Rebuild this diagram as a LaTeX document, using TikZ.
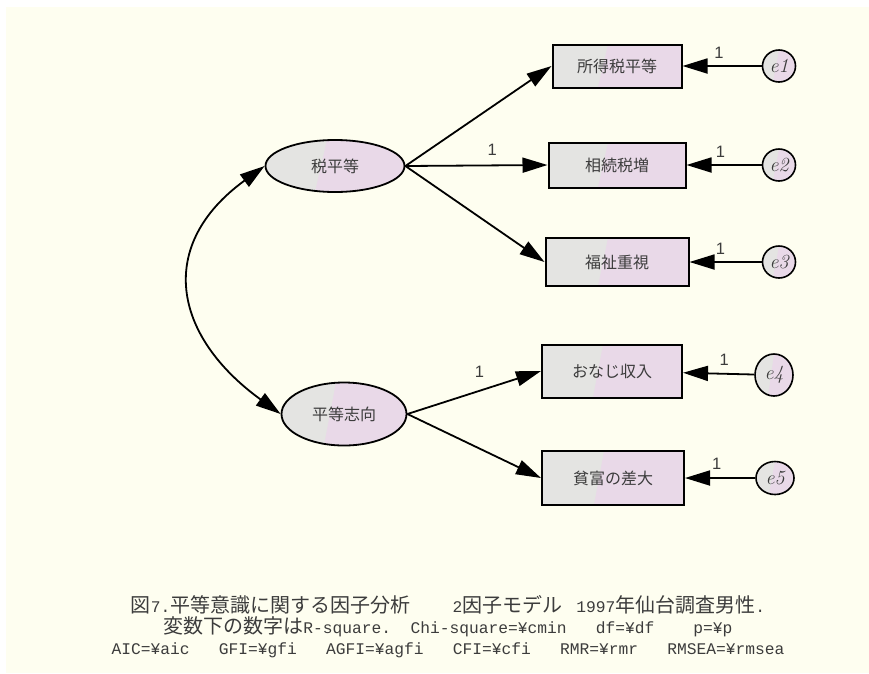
\documentclass[tikz,border=0pt]{standalone}
\usepackage{fontspec}
\newfontfamily\jpfont{Noto Sans CJK JP}
\newfontfamily\latinmono{Liberation Mono}
\newfontfamily\labelsans{Liberation Sans}
\usetikzlibrary{arrows.meta,shapes}
\definecolor{bgcream}{HTML}{FEFEF0}
\definecolor{nodegrey}{HTML}{E4E4E2}
\definecolor{nodepink}{HTML}{E9D9E8}
\definecolor{txtgrey}{HTML}{3C3C3C}
\tikzset{twotone/.style 2 args={fill=nodegrey,
    path picture={\fill[nodepink] ([xshift=#1]path picture bounding box.north)
      -- (path picture bounding box.north east) -- (path picture bounding box.south east)
      -- ([xshift=#2]path picture bounding box.south) -- cycle;}}}
\newcommand{\capmono}{\latinmono\fontsize{16.25}{21}\selectfont}

\begin{document}
\begin{tikzpicture}[x=1pt,y=1pt,->,>={Triangle[length=25pt,width=15pt]},
                    line width=1.8pt,node distance=162pt]
  \tikzstyle{latent}=[ellipse,draw,line width=1.8pt,inner sep=0pt,twotone={-8pt}{-20pt},
                      text=txtgrey,font=\jpfont\fontsize{16}{16}\selectfont]
  \tikzstyle{observed}=[rectangle,draw,line width=2pt,inner sep=0pt,twotone={-9pt}{-19pt},
                        text=txtgrey,font=\jpfont\fontsize{16}{16}\selectfont]
  \tikzstyle{err}=[ellipse,draw,line width=1.6pt,inner sep=0pt,twotone={0pt}{-6pt},
                   minimum width=33pt,minimum height=32pt,text=txtgrey,
                   font=\itshape\fontsize{20}{20}\selectfont]
  \tikzstyle{one}=[text=txtgrey,font=\labelsans\fontsize{16.5}{16.5}\selectfont]

  \useasboundingbox (0,0) rectangle (869,-673);
  \fill[white] (0,0) rectangle (869,-673);
  \fill[bgcream] (6,-7) rectangle (869,-673);

  \node[latent]   (TaxEq)   at (335,-166) [minimum width=139pt,minimum height=52pt] {税平等};
  \node[latent]   (EqPref)  at (344,-414) [minimum width=125pt,minimum height=63pt] {平等志向};

  \node[observed] (Income)  at (617,-66)  [minimum width=129pt,minimum height=43pt] {所得税平等};
  \node[observed] (Inherit) at (617,-165) [minimum width=137pt,minimum height=45pt] {相続税増};
  \node[observed] (Welfare) at (617,-262) [minimum width=143pt,minimum height=48pt] {福祉重視};
  \node[observed] (SameInc) at (612,-371) [minimum width=140pt,minimum height=53pt] {おなじ収入};
  \node[observed] (Gap)     at (613,-478) [minimum width=142pt,minimum height=54pt] {貧富の差大};

  \node[err] (e1) [right of=Income]  {e1};
  \node[err] (e2) [right of=Inherit] {e2};
  \node[err] (e3) [right of=Welfare] {e3};
  \node[err] (e4) [right of=SameInc,yshift=-4pt,minimum width=38pt,minimum height=42pt] {e4};
  \node[err] (e5) [right of=Gap,minimum width=38pt,minimum height=33pt] {e5};

  \path (TaxEq.east)  edge                                     (Income.west)
                      edge node[one,pos=0.61,above=6pt] {1}    (Inherit.west)
                      edge                                     (Welfare.west)
        (EqPref.east) edge node[one,pos=0.54,above=9pt] {1}    (SameInc.west)
                      edge                                     (Gap.west)
        (e1) edge node[one,pos=0.54,above=3pt] {1} (Income)
        (e2) edge node[one,pos=0.55,above=3pt] {1} (Inherit)
        (e3) edge node[one,pos=0.57,above=3pt] {1} (Welfare)
        (e4) edge node[one,pos=0.42,above=4pt] {1} (SameInc)
        (e5) edge node[one,pos=0.55,above=4pt] {1} (Gap);

  % covariance between the two factors
  \draw[<->] (TaxEq.west) to[out=216,in=144,looseness=1.38] (EqPref.west);

  \node (caption) at (448,-627) [align=center,text=txtgrey,font=\fontsize{20}{21}\selectfont]
    {{\jpfont 図}{\capmono 7.}{\jpfont 平等意識に関する因子分析}\hspace{42pt}{\capmono 2}{\jpfont 因子モデル}\hspace{14pt}{\capmono 1997}{\jpfont 年仙台調査男性}{\capmono .}\\
     {\jpfont 変数下の数字は}{\capmono R-square.\ \ Chi-square=¥cmin\ \ \ df=¥df\ \ \ \ p=¥p}\\
     {\capmono AIC=¥aic\ \ \ GFI=¥gfi\ \ \ AGFI=¥agfi\ \ \ CFI=¥cfi\ \ \ RMR=¥rmr\ \ \ RMSEA=¥rmsea}};
\end{tikzpicture}
\end{document}
